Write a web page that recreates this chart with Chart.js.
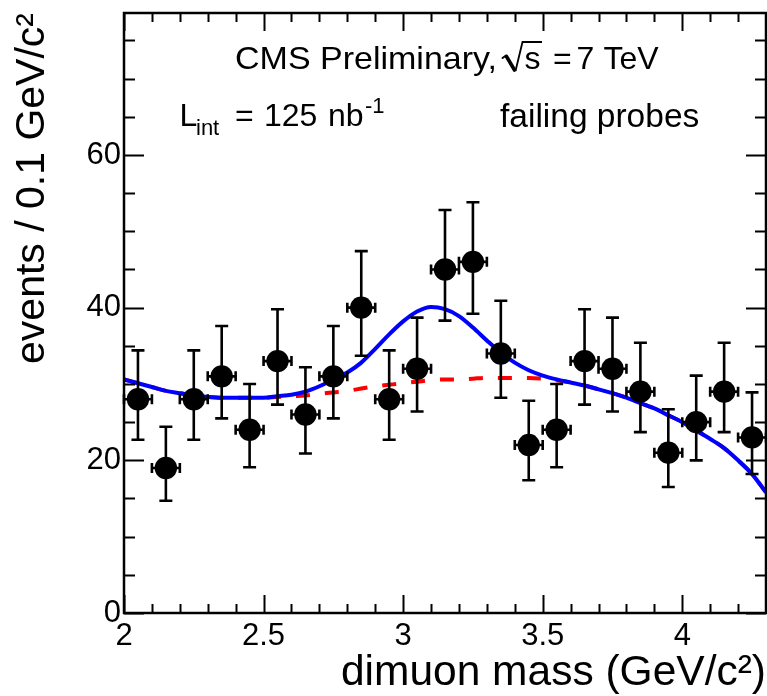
<!DOCTYPE html>
<html lang="en">
<head>
<meta charset="UTF-8">
<title>dimuon mass - failing probes</title>
<script src="https://cdn.jsdelivr.net/npm/chart.js@4"></script>
<style>
  html, body { margin: 0; padding: 0; background: #fff; }
</style>
</head>
<body>
<canvas id="massPlot" width="767" height="696"></canvas>
<script>
// bin centres in GeV/c^2 (bins are 0.1 wide)
const massBins = [2.05, 2.15, 2.25, 2.35, 2.45, 2.55, 2.65, 2.75, 2.85, 2.95, 3.05,
                  3.15, 3.25, 3.35, 3.45, 3.55, 3.65, 3.75, 3.85, 3.95, 4.05, 4.15, 4.25];
const events = [28, 19, 28, 31, 24, 33, 26, 31, 40, 28, 32, 45, 46, 34, 22, 24, 33, 32, 29, 21, 25, 29, 23];
// ends of the vertical error bars
const eventsLow  = [22.7, 14.7, 22.7, 25.5, 19.1, 27.3, 20.9, 25.5, 33.7, 22.7, 26.4, 38.3,
                    39.2, 28.2, 17.4, 19.1, 27.3, 26.4, 23.7, 16.5, 20.0, 23.7, 18.2];
const eventsHigh = [34.4, 24.4, 34.4, 37.6, 30.0, 39.8, 32.2, 37.6, 47.4, 34.4, 38.7, 52.8,
                    53.8, 40.9, 27.8, 30.0, 39.8, 38.7, 35.4, 26.7, 31.1, 35.4, 28.9];
const binHalfWidth = 0.05;

// fit curves
const curveMass = [2.00, 2.05, 2.10, 2.15, 2.20, 2.25, 2.30, 2.35, 2.40, 2.45, 2.50, 2.55,
                   2.60, 2.65, 2.70, 2.75, 2.80, 2.85, 2.90, 2.95, 3.00, 3.05, 3.10, 3.15,
                   3.20, 3.25, 3.30, 3.35, 3.40, 3.45, 3.50, 3.55, 3.60, 3.65, 3.70, 3.75,
                   3.80, 3.85, 3.90, 3.95, 4.00, 4.05, 4.10, 4.15, 4.20, 4.25, 4.30];
const fitTotal = [30.6, 30.1, 29.6, 29.1, 28.8, 28.5, 28.3, 28.2, 28.2, 28.2, 28.2, 28.4,
                  28.6, 29.0, 29.7, 30.6, 31.5, 32.8, 34.6, 36.5, 38.2, 39.5, 40.1, 39.8,
                  38.9, 37.4, 35.7, 34.1, 32.8, 31.8, 31.1, 30.6, 30.2, 29.8, 29.3, 28.8,
                  28.2, 27.5, 26.8, 25.9, 25.0, 23.9, 22.8, 21.6, 20.0, 18.2, 15.8];
const fitBackground = [30.6, 30.1, 29.6, 29.1, 28.8, 28.5, 28.3, 28.2, 28.2, 28.2, 28.2, 28.3,
                       28.4, 28.5, 28.7, 28.9, 29.1, 29.4, 29.7, 29.9, 30.1, 30.3, 30.5, 30.6,
                       30.6, 30.7, 30.8, 30.8, 30.8, 30.8, 30.7, 30.5, 30.2, 29.8, 29.3, 28.8,
                       28.2, 27.5, 26.8, 25.9, 25.0, 23.9, 22.8, 21.6, 20.0, 18.2, 15.8];

const xTicks = [2, 2.5, 3, 3.5, 4];
const yTicks = [0, 20, 40, 60];

const FONT = '"Liberation Sans", Arial, Helvetica, sans-serif';

// text squeezed/stretched to a given width
function textTo(ctx, str, x, y, width) {
  const w = ctx.measureText(str).width;
  ctx.save();
  ctx.translate(x, y);
  ctx.scale(width / w, 1);
  ctx.fillText(str, 0, 0);
  ctx.restore();
}

// inward ticks on all four sides, frame, error bars, labels
const framePlugin = {
  id: 'frame',
  afterDatasetsDraw(chart) {
    const ctx = chart.ctx;
    const xs = chart.scales.x, ys = chart.scales.y;
    const a = chart.chartArea;

    ctx.save();
    ctx.strokeStyle = '#000';
    ctx.lineWidth = 2.6;
    ctx.beginPath();
    massBins.forEach(function(m, i) {
      const px = xs.getPixelForValue(m);
      const py = ys.getPixelForValue(events[i]);
      const yLo = ys.getPixelForValue(eventsLow[i]);
      const yHi = ys.getPixelForValue(eventsHigh[i]);
      const xL = xs.getPixelForValue(m - binHalfWidth);
      const xR = xs.getPixelForValue(m + binHalfWidth);
      ctx.moveTo(px, yLo); ctx.lineTo(px, yHi);
      ctx.moveTo(px - 6.5, yLo); ctx.lineTo(px + 6.5, yLo);
      ctx.moveTo(px - 6.5, yHi); ctx.lineTo(px + 6.5, yHi);
      ctx.moveTo(xL, py); ctx.lineTo(xR, py);
      ctx.moveTo(xL, py - 5); ctx.lineTo(xL, py + 5);
      ctx.moveTo(xR, py - 5); ctx.lineTo(xR, py + 5);
    });
    ctx.stroke();

    // ticks
    ctx.lineWidth = 2;
    ctx.beginPath();
    for (let k = 0; k <= 22; k++) {
      const v = 2 + k * 0.1;
      const len = (k % 5 === 0) ? 18 : 9;
      const px = Math.round(xs.getPixelForValue(v)) + 0.5;
      ctx.moveTo(px, a.bottom); ctx.lineTo(px, a.bottom - len);
      ctx.moveTo(px, a.top); ctx.lineTo(px, a.top + len);
    }
    for (let v = 0; v <= 75; v += 5) {
      const len = (v % 20 === 0) ? 20 : 11;
      const py = Math.round(ys.getPixelForValue(v)) + 0.5;
      ctx.moveTo(a.left, py); ctx.lineTo(a.left + len, py);
      ctx.moveTo(a.right, py); ctx.lineTo(a.right - len, py);
    }
    ctx.stroke();

    ctx.lineWidth = 2.5;
    ctx.strokeRect(a.left, a.top, a.right - a.left, a.bottom - a.top);
    ctx.restore();
  },
  afterDraw(chart) {
    const ctx = chart.ctx;
    ctx.save();
    ctx.fillStyle = '#000';
    ctx.textBaseline = 'alphabetic';
    ctx.textAlign = 'left';

    ctx.font = '32px ' + FONT;
    textTo(ctx, 'CMS Preliminary,', 235, 69, 262);
    // square root sign over s
    ctx.strokeStyle = '#000';
    ctx.lineCap = 'round';
    ctx.lineWidth = 2;
    ctx.beginPath();
    ctx.moveTo(502.5, 58); ctx.lineTo(506, 55.5);
    ctx.stroke();
    ctx.lineWidth = 3.6;
    ctx.beginPath();
    ctx.moveTo(506.5, 56.5); ctx.lineTo(514.5, 70);
    ctx.stroke();
    ctx.lineCap = 'butt';
    ctx.lineWidth = 1.8;
    ctx.beginPath();
    ctx.moveTo(515.5, 71); ctx.lineTo(522.5, 42); ctx.lineTo(542, 42);
    ctx.stroke();
    ctx.fillText('s', 524.5, 69);
    ctx.fillText('=', 553, 69);
    ctx.fillText('7', 576.5, 69);
    ctx.fillText('TeV', 603.5, 69);

    ctx.fillText('L', 179.5, 125.5);
    ctx.font = '22px ' + FONT;
    ctx.fillText('int', 196, 135);
    ctx.font = '32px ' + FONT;
    ctx.fillText('=', 235, 125.5);
    ctx.fillText('125', 264, 125.5);
    ctx.fillText('nb', 328, 125.5);
    ctx.font = '22px ' + FONT;
    ctx.fillText('-1', 365, 113);

    ctx.font = '33.5px ' + FONT;
    ctx.fillText('failing probes', 500, 126.5);
    ctx.restore();
  }
};

new Chart(document.getElementById('massPlot'), {
  type: 'scatter',
  data: {
    datasets: [
      {
        label: 'data',
        data: massBins.map((m, i) => ({x: m, y: events[i]})),
        pointRadius: 11.2,
        pointBackgroundColor: '#000',
        pointBorderWidth: 0,
        showLine: false
      },
      {
        label: 'signal + background',
        data: curveMass.map((m, i) => ({x: m, y: fitTotal[i]})),
        showLine: true,
        borderColor: '#0000ff',
        borderWidth: 4,
        pointRadius: 0,
        cubicInterpolationMode: 'monotone'
      },
      {
        label: 'background',
        data: curveMass.map((m, i) => ({x: m, y: fitBackground[i]})),
        showLine: true,
        borderColor: '#ff0000',
        borderWidth: 4,
        borderDash: [14, 15],
        pointRadius: 0,
        cubicInterpolationMode: 'monotone'
      }
    ]
  },
  options: {
    responsive: false,
    animation: false,
    events: [],
    layout: { autoPadding: false, padding: { top: 13, right: 1, left: 0, bottom: 0 } },
    plugins: { legend: { display: false }, tooltip: { enabled: false } },
    scales: {
      x: {
        type: 'linear',
        min: 2,
        max: 4.3,
        grid: { display: false, drawTicks: false },
        border: { display: false },
        afterBuildTicks: s => { s.ticks = xTicks.map(v => ({value: v})); },
        afterFit: s => { s.height = 83; s.paddingLeft = 0; s.paddingRight = 0; },
        ticks: {
          color: '#000',
          padding: 5,
          font: { family: FONT, size: 31 },
          callback: v => String(v)
        },
        title: {
          display: true,
          text: 'dimuon mass (GeV/c²)',
          align: 'end',
          color: '#000',
          font: { family: FONT, size: 42.5, lineHeight: 1 },
          padding: { top: 0, bottom: 1.5 }
        }
      },
      y: {
        min: 0,
        max: 78.6,
        grid: { display: false, drawTicks: false },
        border: { display: false },
        afterBuildTicks: s => { s.ticks = yTicks.map(v => ({value: v})); },
        afterFit: s => { s.width = 124; s.paddingTop = 0; s.paddingBottom = 0; },
        ticks: {
          color: '#000',
          padding: 3,
          font: { family: FONT, size: 31 },
          callback: v => String(v)
        },
        title: {
          display: true,
          text: 'events / 0.1 GeV/c²',
          align: 'end',
          color: '#000',
          font: { family: FONT, size: 41, lineHeight: 1 },
          padding: { top: 12.5, bottom: 0 }
        }
      }
    }
  },
  plugins: [framePlugin]
});
</script>
</body>
</html>
